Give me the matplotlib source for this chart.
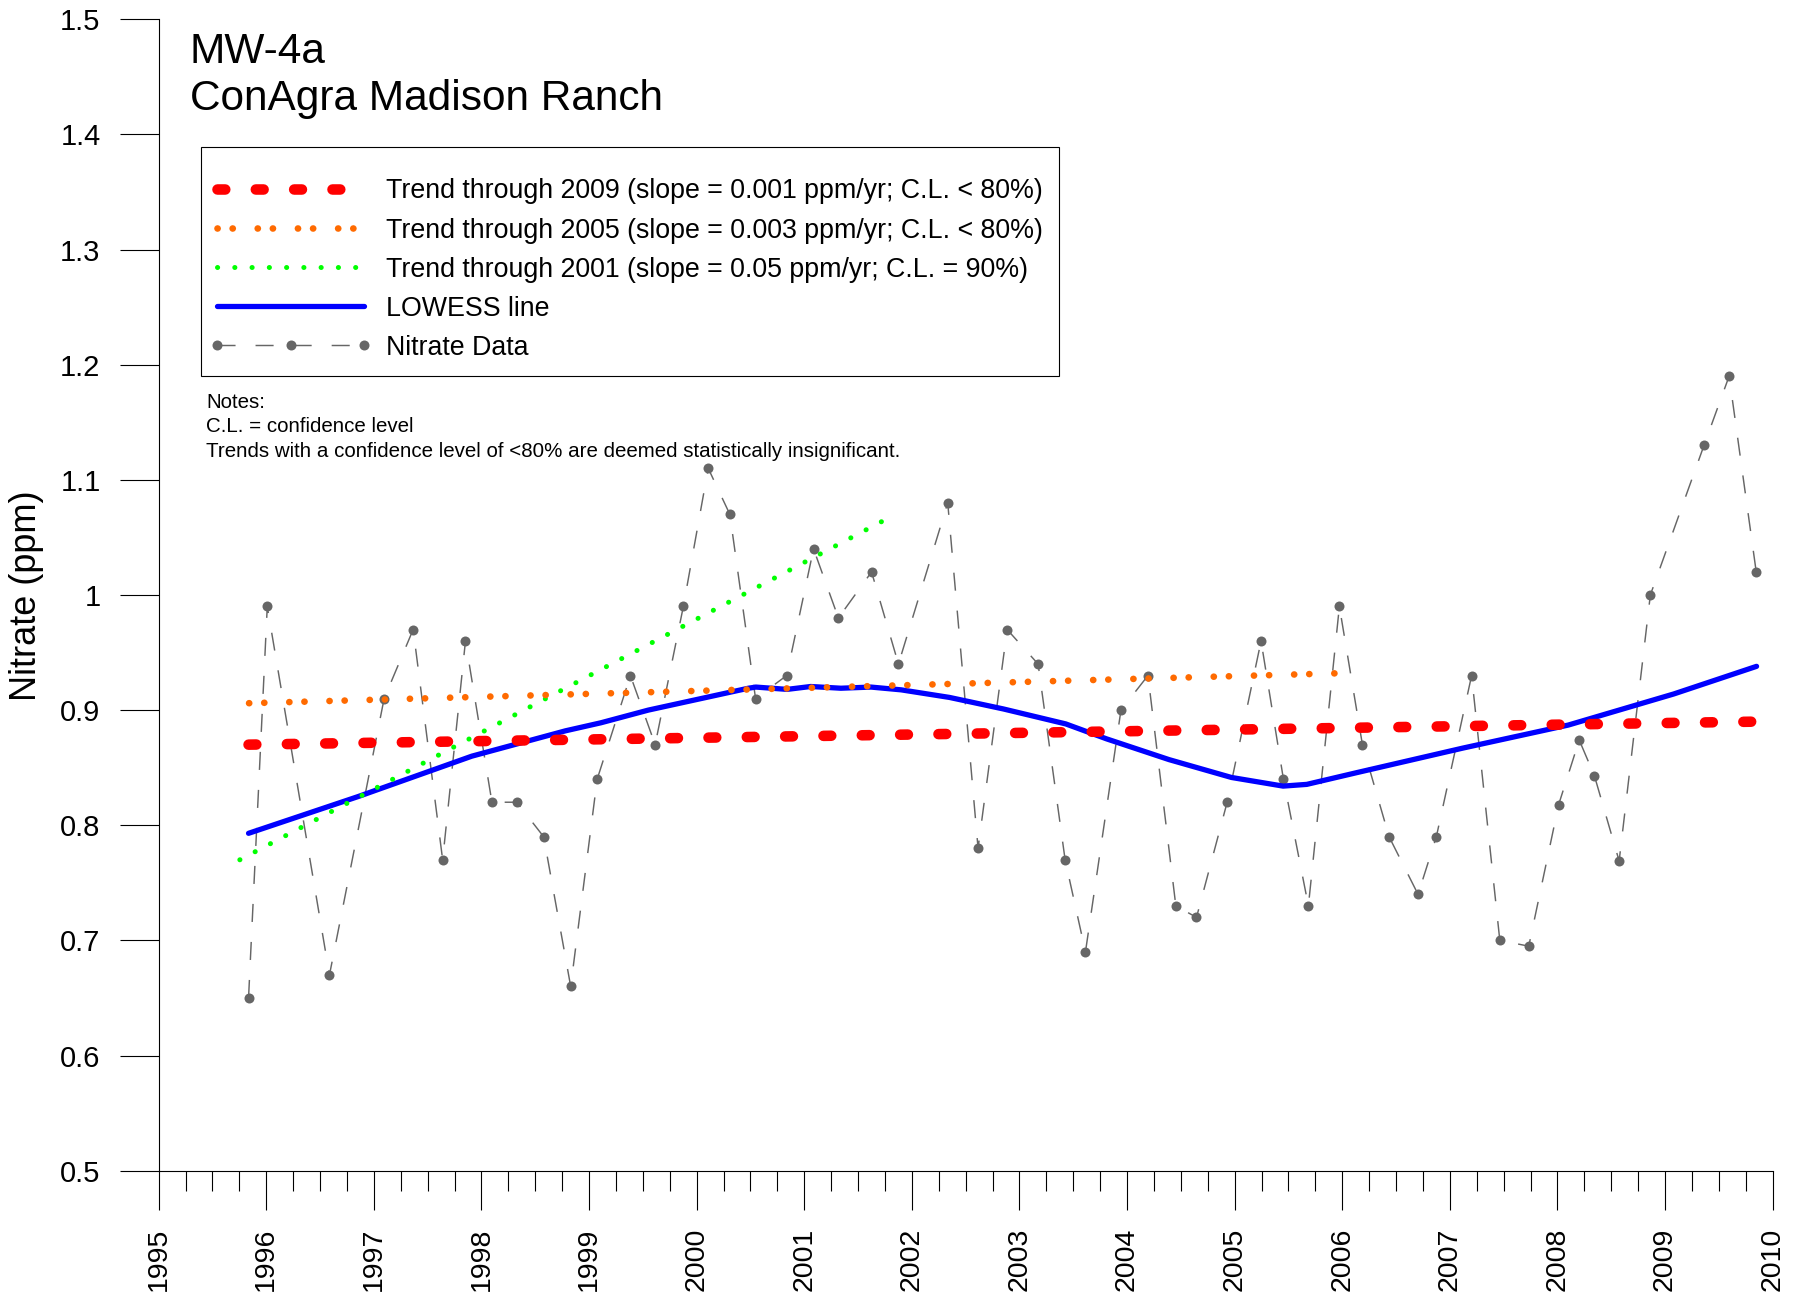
import matplotlib
matplotlib.use("Agg")
import matplotlib.pyplot as plt
from matplotlib.ticker import AutoMinorLocator, FixedLocator
from matplotlib.patches import Rectangle

plt.rcParams['font.family'] = ['Liberation Sans', 'DejaVu Sans']
plt.rcParams['lines.scale_dashes'] = False

# nitrate samples (decimal year, ppm)
nitrate_year = [1995.835, 1996.009, 1996.587, 1997.095, 1997.365, 1997.639, 1997.851,
                1998.097, 1998.328, 1998.578, 1998.829, 1999.075, 1999.384, 1999.614,
                1999.876, 2000.107, 2000.308, 2000.547, 2000.836, 2001.086, 2001.317,
                2001.625, 2001.875, 2002.333, 2002.615, 2002.885, 2003.173, 2003.424,
                2003.613, 2003.943, 2004.194, 2004.453, 2004.645, 2004.930, 2005.245,
                2005.453, 2005.685, 2005.973, 2006.187, 2006.435, 2006.704, 2006.874,
                2007.202, 2007.464, 2007.733, 2008.011, 2008.202, 2008.343, 2008.573,
                2008.863, 2009.362, 2009.595, 2009.847]
nitrate_ppm = [0.650, 0.990, 0.670, 0.910, 0.970, 0.770, 0.960,
               0.820, 0.820, 0.790, 0.660, 0.840, 0.930, 0.870,
               0.990, 1.110, 1.070, 0.910, 0.930, 1.040, 0.980,
               1.020, 0.940, 1.080, 0.780, 0.970, 0.940, 0.770,
               0.690, 0.900, 0.930, 0.730, 0.720, 0.820, 0.960,
               0.840, 0.730, 0.990, 0.870, 0.790, 0.740, 0.790,
               0.930, 0.700, 0.695, 0.818, 0.874, 0.843, 0.769,
               1.000, 1.130, 1.190, 1.020]

# LOWESS curve
lowess_year = [1995.835, 1996.856, 1997.91, 1998.78, 1999.11, 1999.55, 2000.48, 2000.55,
               2000.84, 2001.06, 2001.34, 2001.62, 2001.90, 2002.35, 2002.85, 2003.43,
               2003.81, 2004.39, 2004.97, 2005.45, 2005.67, 2006.13, 2007.12, 2008.10,
               2009.08, 2009.85]
lowess_ppm = [0.793, 0.825, 0.860, 0.882, 0.889, 0.900, 0.919, 0.920,
              0.918, 0.9205, 0.919, 0.920, 0.9176, 0.911, 0.901, 0.888,
              0.875, 0.857, 0.8415, 0.834, 0.8355, 0.8456, 0.867, 0.887,
              0.914, 0.938]

# trend lines (end points)
trend2009_year = [1995.835, 2009.85]
trend2009_ppm = [0.870, 0.890]
trend2005_year = [1995.84, 2005.97]
trend2005_ppm = [0.906, 0.932]
trend2001_year = [1995.754, 2001.725]
trend2001_ppm = [0.770, 1.064]

year_ticks = [1995, 1996, 1997, 1998, 1999, 2000, 2001, 2002,
              2003, 2004, 2005, 2006, 2007, 2008, 2009, 2010]
ppm_ticks = [0.5, 0.6, 0.7, 0.8, 0.9, 1.0, 1.1, 1.2, 1.3, 1.4, 1.5]

labels = ["Trend through 2009 (slope = 0.001 ppm/yr; C.L. < 80%)",
          "Trend through 2005 (slope = 0.003 ppm/yr; C.L. < 80%)",
          "Trend through 2001 (slope = 0.05 ppm/yr; C.L. = 90%)",
          "LOWESS line",
          "Nitrate Data"]

W, H = 1803, 1295
fig = plt.figure(figsize=(W / 100, H / 100), dpi=100)
ax = fig.add_axes([0.08802, 0.09598, 0.89517, 0.88919])

data_line, = ax.plot(nitrate_year, nitrate_ppm, color='#666666', lw=1.05,
                     dashes=(13, 14.4), marker='o', ms=7.2, mew=0, zorder=2)
blue_line, = ax.plot(lowess_year, lowess_ppm, color='#0000ff', lw=3.8,
                     solid_capstyle='round', zorder=3)
green_line, = ax.plot(trend2001_year, trend2001_ppm, color='#00ff00', lw=3.6,
                      dashes=(0.1, 12.33), dash_capstyle='round', zorder=4)
orange_line, = ax.plot(trend2005_year, trend2005_ppm, color='#ff6a00', lw=4.8,
                       dashes=(0.1, 10.8, 0.1, 17.95), dash_capstyle='round', zorder=5)
red_line, = ax.plot(trend2009_year, trend2009_ppm, color='#ff0000', lw=7.6,
                    dashes=(5.6, 22), dash_capstyle='round', zorder=6)

ax.set_xlim(1995, 2010)
ax.set_ylim(0.5, 1.5)
ax.xaxis.set_major_locator(FixedLocator(year_ticks))
ax.xaxis.set_minor_locator(AutoMinorLocator(4))
ax.set_xticklabels([str(y) for y in year_ticks], rotation=90)
ax.yaxis.set_major_locator(FixedLocator(ppm_ticks))
ax.set_yticklabels(['%g' % v for v in ppm_ticks])

ax.tick_params(axis='x', which='major', length=27.9, width=0.8, pad=13, labelsize=20.5)
ax.tick_params(axis='x', which='minor', length=14.2, width=0.8)
ax.tick_params(axis='y', which='major', length=27.9, width=0.8, pad=14, labelsize=21)
for s in ['top', 'right']:
    ax.spines[s].set_visible(False)
for s in ['left', 'bottom']:
    ax.spines[s].set_linewidth(0.8)

fig.text(27 / W, 1 - 596 / H, "Nitrate (ppm)", rotation=90, ha='center', va='center',
         fontsize=26)

fig.text(189.5 / W, 1 - 63.3 / H, "MW-4a", fontsize=30.5, va='baseline')
fig.text(189.5 / W, 1 - 110 / H, "ConAgra Madison Ranch", fontsize=30.5, va='baseline')

leg = ax.legend([red_line, orange_line, green_line, blue_line, data_line], labels,
                loc='upper left', bbox_to_anchor=(209 / W, 1 - 178.5 / H),
                bbox_transform=fig.transFigure, frameon=False, borderpad=0,
                borderaxespad=0, fontsize=19.3, handlelength=6.1, handletextpad=0.5,
                labelspacing=0.485, numpoints=3)
fig.add_artist(Rectangle((201 / W, 1 - 376 / H), 858 / W, 228.7 / H,
                         transform=fig.transFigure, fill=False, edgecolor='black',
                         lw=0.8))

notes = ["Notes:", "C.L. = confidence level",
         "Trends with a confidence level of <80% are deemed statistically insignificant."]
for i, line in enumerate(notes):
    fig.text(206 / W, 1 - (408 + 24.3 * i) / H, line, fontsize=14.75, va='baseline')

fig.savefig("out.png", dpi=100)
